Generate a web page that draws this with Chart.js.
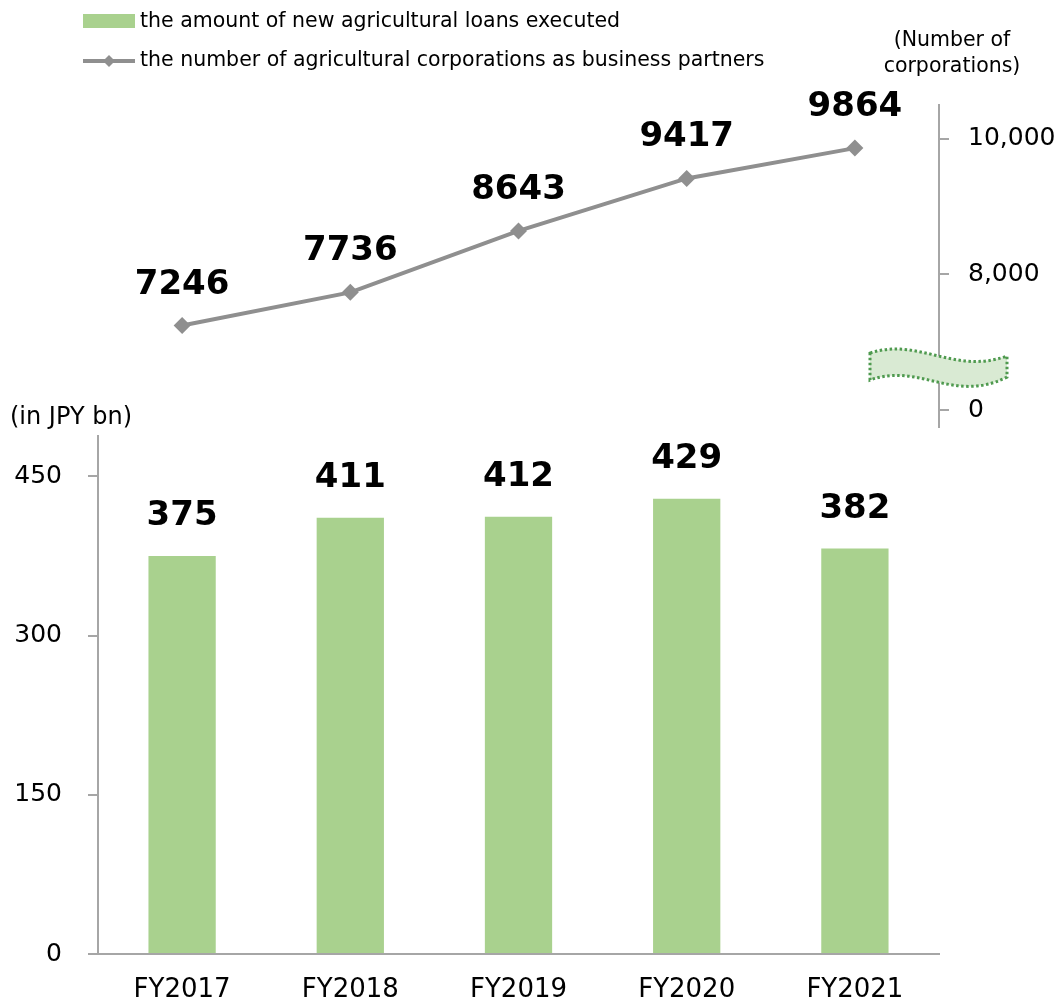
<!DOCTYPE html>
<html>
<head>
<meta charset="utf-8">
<title>Agricultural loans and business partners</title>
<script src="https://cdn.jsdelivr.net/npm/chart.js@4.4.1/dist/chart.umd.min.js"></script>
<style>
  body { margin: 0; background: #fff; }
  #wrap { position: relative; width: 1060px; height: 1005px; }
  #wrap canvas { position: absolute; left: 0; top: 0; }
</style>
</head>
<body>
<div id="wrap">
  <canvas id="loans-chart" width="1060" height="1005"></canvas>
  <canvas id="partners-chart" width="1060" height="1005"></canvas>
</div>
<script>
/* data */
let fiscalYears = ['FY2017', 'FY2018', 'FY2019', 'FY2020', 'FY2021']
let loanAmounts = [375, 411, 412, 429, 382]          // in JPY bn
let partnerCounts = [7246, 7736, 8643, 9417, 9864]  // number of corporations
let loanTicks = [0, 150, 300, 450]
// right axis is broken below 8,000: the bottom tick stands in for 0
let partnerTicks = [6000, 8000, 10000]
let partnerTickLabels = ['0', '8,000', '10,000']
let loanName = 'the amount of new agricultural loans executed'
let partnerName = 'the number of agricultural corporations as business partners'

/* look */
let barGreen = '#a9d18e'
let lineGray = '#8f8f8f'
let axisGray = '#a6a6a6'
let family = '"DejaVu Sans", Verdana, sans-serif'
let tickFont = { family: family, size: 25 }

// big bold numbers over each bar / point
let valueLabels = {
    id: 'valueLabels',
    afterDatasetsDraw(chart, args, opts) {
        let ctx = chart.ctx
        let values = chart.data.datasets[0].data
        ctx.save()
        ctx.font = 'bold 34px ' + family
        ctx.fillStyle = '#000'
        ctx.textAlign = 'center'
        ctx.textBaseline = 'alphabetic'
        chart.getDatasetMeta(0).data.forEach(function(el, i) {
            ctx.fillText(String(values[i]), el.x, el.y - opts.gap)
        })
        ctx.restore()
    }
}

// unit captions next to the axes
let unitText = {
    id: 'unitText',
    afterDraw(chart, args, opts) {
        let ctx = chart.ctx
        ctx.save()
        ctx.font = opts.size + 'px ' + family
        ctx.fillStyle = '#000'
        ctx.textAlign = opts.align
        ctx.textBaseline = 'middle'
        opts.lines.forEach(function(line, i) {
            ctx.fillText(line, opts.x, opts.y + i * opts.lineHeight)
        })
        ctx.restore()
    }
}

// two-row legend at the top left
let seriesLegend = {
    id: 'seriesLegend',
    afterDraw(chart) {
        let ctx = chart.ctx
        ctx.save()
        ctx.fillStyle = barGreen
        ctx.fillRect(83, 14, 52, 14)

        ctx.strokeStyle = lineGray
        ctx.lineWidth = 4
        ctx.beginPath()
        ctx.moveTo(83, 61)
        ctx.lineTo(135, 61)
        ctx.stroke()
        ctx.fillStyle = lineGray
        ctx.beginPath()
        ctx.moveTo(109, 55)
        ctx.lineTo(115, 61)
        ctx.lineTo(109, 67)
        ctx.lineTo(103, 61)
        ctx.closePath()
        ctx.fill()

        ctx.font = '20.5px ' + family
        ctx.fillStyle = '#000'
        ctx.textBaseline = 'middle'
        ctx.fillText(loanName, 140, 22)
        ctx.fillText(partnerName, 140, 61)
        ctx.restore()
    }
}

// wavy band that marks the cut in the right axis
let axisBreak = {
    id: 'axisBreak',
    afterDraw(chart) {
        let ctx = chart.ctx
        let scale = chart.scales.y
        let x = scale.left
        let y = scale.getPixelForValue(partnerTicks[0])
        let top = y - 57
        let h = 27
        ctx.save()
        ctx.beginPath()
        ctx.moveTo(x - 69, top)
        ctx.bezierCurveTo(x - 20, top - 16, x + 15, top + 22, x + 68, top + 3)
        ctx.lineTo(x + 68, top + 3 + h - 6)
        ctx.bezierCurveTo(x + 15, top + h + 24, x - 20, top + h - 18, x - 69, top + h)
        ctx.closePath()
        ctx.fillStyle = '#d9ead3'
        ctx.fill()
        ctx.strokeStyle = '#4f9a4f'
        ctx.lineWidth = 3
        ctx.setLineDash([2.5, 2.5])
        ctx.stroke()
        ctx.restore()
    }
}

/* bottom: bar chart of loan amounts */
let loansChart = new Chart(document.querySelector('#loans-chart'), {
    type: 'bar',
    data: {
        labels: fiscalYears,
        datasets: [{
            label: loanName,
            data: loanAmounts,
            backgroundColor: barGreen,
            barPercentage: 0.4,
            categoryPercentage: 1
        }]
    },
    options: {
        responsive: false,
        animation: false,
        layout: { padding: { top: 436, right: 121, left: 0, bottom: 0 } },
        plugins: {
            legend: { display: false },
            tooltip: { enabled: false },
            valueLabels: { gap: 31 },
            unitText: { lines: ['(in JPY bn)'], x: 10, y: 418, lineHeight: 0, size: 24, align: 'left' }
        },
        scales: {
            x: {
                grid: { display: false, drawTicks: false },
                border: { color: axisGray, width: 2 },
                ticks: { font: { family: family, size: 26 }, color: '#000', padding: 21 },
                afterFit: function(s) { s.height = 51 }
            },
            y: {
                min: 0,
                max: 488,
                afterBuildTicks: function(s) { s.ticks = loanTicks.map(v => ({ value: v })) },
                grid: { drawOnChartArea: false, tickLength: 10, color: axisGray, lineWidth: 2 },
                border: { color: axisGray, width: 2 },
                ticks: { font: tickFont, color: '#000', padding: 26 },
                afterFit: function(s) { s.width = 98 }
            }
        }
    },
    plugins: [valueLabels, unitText]
})

/* top: line chart of partner corporations */
let partnersChart = new Chart(document.querySelector('#partners-chart'), {
    type: 'line',
    data: {
        labels: fiscalYears,
        datasets: [{
            label: partnerName,
            data: partnerCounts,
            borderColor: lineGray,
            borderWidth: 4,
            pointStyle: 'rectRot',
            pointRadius: 8.5,
            pointBackgroundColor: lineGray,
            pointBorderWidth: 0,
            tension: 0
        }]
    },
    options: {
        responsive: false,
        animation: false,
        layout: { padding: { top: 105, left: 98, right: 0, bottom: 578 } },
        plugins: {
            legend: { display: false },
            tooltip: { enabled: false },
            valueLabels: { gap: 32 },
            unitText: { lines: ['(Number of', 'corporations)'], x: 952, y: 41, lineHeight: 26, size: 20.5, align: 'center' }
        },
        scales: {
            x: { display: false, offset: true },
            y: {
                position: 'right',
                min: 5750,
                max: 10500,
                afterBuildTicks: function(s) { s.ticks = partnerTicks.map(v => ({ value: v })) },
                grid: { drawOnChartArea: false, tickLength: 10, color: axisGray, lineWidth: 2 },
                border: { color: axisGray, width: 2 },
                ticks: {
                    font: tickFont,
                    color: '#000',
                    padding: 19,
                    callback: function(value) { return partnerTickLabels[partnerTicks.indexOf(value)] }
                },
                afterFit: function(s) { s.width = 121 }
            }
        }
    },
    plugins: [valueLabels, seriesLegend, unitText, axisBreak]
})
</script>
</body>
</html>
